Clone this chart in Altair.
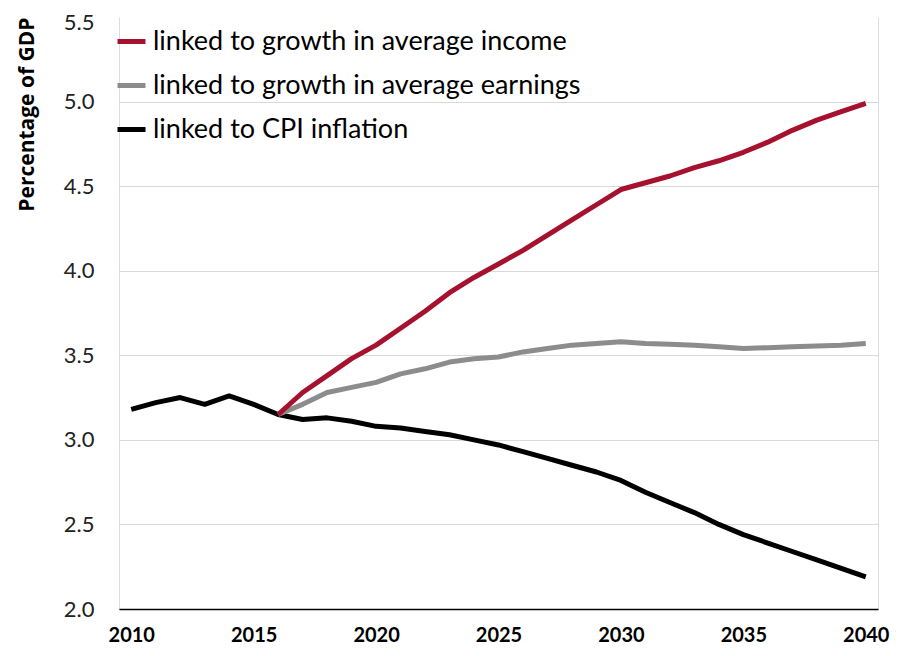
import altair as alt
import pandas as pd

years_all = list(range(2010, 2041))
cpi = [3.18, 3.22, 3.25, 3.21, 3.26, 3.21, 3.15, 3.12, 3.13, 3.11,
       3.08, 3.07, 3.05, 3.03, 3.00, 2.97, 2.93, 2.89, 2.85, 2.81,
       2.76, 2.69, 2.63, 2.57, 2.50, 2.44, 2.39, 2.34, 2.29, 2.24, 2.19]

years_proj = list(range(2016, 2041))
income = [3.15, 3.28, 3.38, 3.48,
          3.56, 3.66, 3.76, 3.87, 3.96, 4.04, 4.12, 4.21, 4.30, 4.39,
          4.48, 4.52, 4.56, 4.61, 4.65, 4.70, 4.76, 4.83, 4.89, 4.94, 4.99]
earnings = [3.15, 3.21, 3.28, 3.31,
            3.34, 3.39, 3.42, 3.46, 3.48, 3.49, 3.52, 3.54, 3.56, 3.57,
            3.58, 3.57, 3.565, 3.56, 3.55, 3.54, 3.545, 3.55, 3.555, 3.56, 3.57]

series_names = ["linked to growth in average income",
                "linked to growth in average earnings",
                "linked to CPI inflation"]
series_colors = ["#A6122E", "#8C8C8C", "#000000"]

x_ticks = [2010, 2015, 2020, 2025, 2030, 2035, 2040]
y_ticks = [2.0, 2.5, 3.0, 3.5, 4.0, 4.5, 5.0, 5.5]

rows = []
for y, v in zip(years_all, cpi):
    rows.append({"year": y, "value": v, "series": series_names[2], "k": 0})
for y, v in zip(years_proj, earnings):
    rows.append({"year": y, "value": v, "series": series_names[1], "k": 1})
for y, v in zip(years_proj, income):
    rows.append({"year": y, "value": v, "series": series_names[0], "k": 2})
df = pd.DataFrame(rows)

top_tick = alt.datum.value == 5.5

chart = alt.Chart(df).mark_line(strokeWidth=5, strokeCap="butt", strokeJoin="round").encode(
    x=alt.X("year:Q",
            scale=alt.Scale(domain=[2009.5, 2040.5], nice=False, zero=False),
            axis=alt.Axis(values=x_ticks, format="d", title=None, grid=False,
                          ticks=False, domainColor="#000000", domainWidth=1.5,
                          labelFont="Lato", labelFontWeight="bold", labelFontSize=20,
                          labelColor="#000000", labelPadding=16)),
    y=alt.Y("value:Q",
            scale=alt.Scale(domain=[2.0, 5.5], nice=False, zero=False),
            axis=alt.Axis(values=y_ticks, format=".1f", title="Percentage of GDP",
                          domain=False, ticks=False,
                          gridColor=alt.condition(top_tick, alt.value("#FFFFFF"), alt.value("#D9D9D9")),
                          gridWidth=1,
                          labelOffset=alt.condition(top_tick, alt.value(5), alt.value(0)),
                          labelFont="Lato", labelFontSize=22, labelColor="#222222",
                          labelPadding=25, titleFont="Open Sans", titleFontSize=21,
                          titleFontWeight="bold", titleColor="#000000",
                          titleAnchor="end", titlePadding=26)),
    color=alt.Color("series:N",
                    scale=alt.Scale(domain=series_names, range=series_colors),
                    legend=alt.Legend(title=None, orient="none", legendX=-4, legendY=8,
                                      symbolType="stroke", symbolStrokeWidth=5,
                                      symbolSize=784, labelFont="Lato", labelFontSize=27,
                                      labelColor="#000000", labelOffset=5, rowPadding=14,
                                      labelLimit=700)),
    detail="k:O",
).properties(
    width=759, height=592,
    autosize=alt.AutoSizeParams(type="none"),
    padding={"left": 111, "top": 9, "right": 12, "bottom": 39},
).configure_view(stroke=None).configure(background="#FFFFFF")

chart.save("out.html", embed_options={"renderer": "svg", "actions": False})
